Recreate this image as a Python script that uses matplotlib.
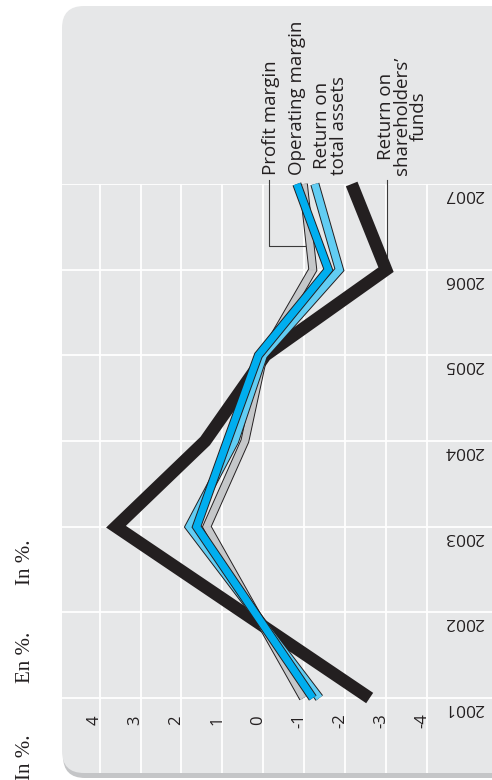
import matplotlib
matplotlib.use("Agg")
import matplotlib.pyplot as plt
import matplotlib.patheffects as pe
from matplotlib.patches import FancyBboxPatch
from matplotlib import transforms
import numpy as np

# ---- data -------------------------------------------------------------
years = [2001, 2002, 2003, 2004, 2005, 2006, 2007]
year_labels = ["2001", "2002", "2003", "2004", "2005", "2006", "2007"]
value_ticks = [4, 3, 2, 1, 0, -1, -2, -3, -4]
value_labels = ["4", "3", "2", "1", "0", "-1", "-2", "-3", "-4"]

profit_margin = [-0.98, 0.20, 1.38, 0.45, 0.00, -1.21, -0.98]
operating_margin = [-1.21, 0.21, 1.63, 0.88, 0.12, -1.59, -0.82]
return_assets = [-1.37, 0.22, 1.81, 0.70, 0.00, -1.86, -1.26]
return_equity = [-2.60, 0.50, 3.60, 1.42, -0.05, -3.00, -2.16]

unit_labels = ["In %.", "En %.", "In %."]

# ---- styling ----------------------------------------------------------
W, H, DPI = 492, 780, 100
PANEL = "#e6e7e8"
INK = "#231f20"
SANS = ["Open Sans", "DejaVu Sans"]
SERIF = ["Liberation Serif", "DejaVu Serif"]

fig = plt.figure(figsize=(W / DPI, H / DPI), dpi=DPI)
fig.patch.set_facecolor("white")

# background panel drawn in pixel space
bg = fig.add_axes([0, 0, 1, 1])
bg.set_xlim(0, W)
bg.set_ylim(H, 0)
bg.axis("off")
shadow = FancyBboxPatch((63, 10), 480, 768,
                        boxstyle="round,pad=0,rounding_size=22",
                        fc="#c4c5c7", ec="none")
panel = FancyBboxPatch((62, 6), 480, 767,
                       boxstyle="round,pad=0,rounding_size=22",
                       fc=PANEL, ec="none")
bg.add_patch(shadow)
bg.add_patch(panel)

# unit captions on the left margin
for txt, yc in zip(unit_labels, [562, 657, 757]):
    bg.text(25, yc, txt, rotation=90, ha="center", va="center",
            fontsize=15, family=SERIF, color="#231f20")

# plotting area: values run right-to-left, years bottom-to-top
ax = fig.add_axes([62 / W, 7 / H, 430 / W, 589 / H])
ax.set_facecolor("none")
ax.set_xlim(4.92, -5.59)
ax.set_ylim(2000.125, 2007.0)
ax.set_xticks(value_ticks)
ax.set_yticks(years)
ax.grid(True, color="white", linewidth=1.3)
ax.tick_params(length=0, labelbottom=False, labelleft=False)
for s in ax.spines.values():
    s.set_visible(False)
ax.set_axisbelow(True)

series = [
    (return_equity, INK, 9.0, None),
    (profit_margin, "#c5c7c9", 5.0, INK),
    (return_assets, "#62cdf3", 5.2, INK),
    (operating_margin, "#00aeef", 5.2, INK),
]
for vals, col, lw, edge in series:
    effects = None
    if edge is not None:
        effects = [pe.Stroke(linewidth=lw + 1.4, foreground=edge), pe.Normal()]
    ax.plot(vals, years, color=col, lw=lw, solid_joinstyle="miter",
            solid_capstyle="butt", clip_on=False, path_effects=effects,
            zorder=3)

# value tick labels inside the panel
tl = transforms.offset_copy(ax.transData, fig=fig, x=-5, y=0, units="dots")
for v, lab in zip(value_ticks, value_labels):
    ax.text(v, 2000.74, lab, transform=tl, rotation=90, ha="center",
            va="center", fontsize=12, family=SANS, color=INK)

# year labels on the right, upside down
yl = transforms.offset_copy(ax.transData, fig=fig, x=0, y=-10, units="dots")
for yr, lab in zip(years, year_labels):
    ax.text(-4.91, yr, lab, transform=yl, rotation=180, ha="center",
            va="center", fontsize=12.5, family=SANS, color=INK)

# series names above the plot
lab_y = 2007.10
name_kw = dict(rotation=90, ha="center", va="bottom", fontsize=13.5,
               family=SANS, color=INK, linespacing=0.92, clip_on=False)
ax.text(-0.20, lab_y, "Profit margin", **name_kw)
ax.text(-0.82, lab_y, "Operating margin", **name_kw)
ax.text(-1.65, lab_y, "Return on\ntotal assets", **name_kw)
ax.text(-3.40, lab_y, "Return on\nshareholders\u2019\nfunds", **name_kw)

# leader lines
lead_top = 2007.05
pm_y = 2006.28
pm_x = np.interp(pm_y, years, profit_margin)
ax.plot([-0.14, -0.14, pm_x + 0.12], [lead_top, pm_y, pm_y], color="#3a3a3a",
        lw=0.8, clip_on=False, zorder=2)
re_y = 2006.15
ax.plot([-3.02, -3.02], [lead_top, re_y], color="#3a3a3a", lw=0.8,
        clip_on=False, zorder=2)

fig.savefig("out.png", dpi=DPI, facecolor="white")
